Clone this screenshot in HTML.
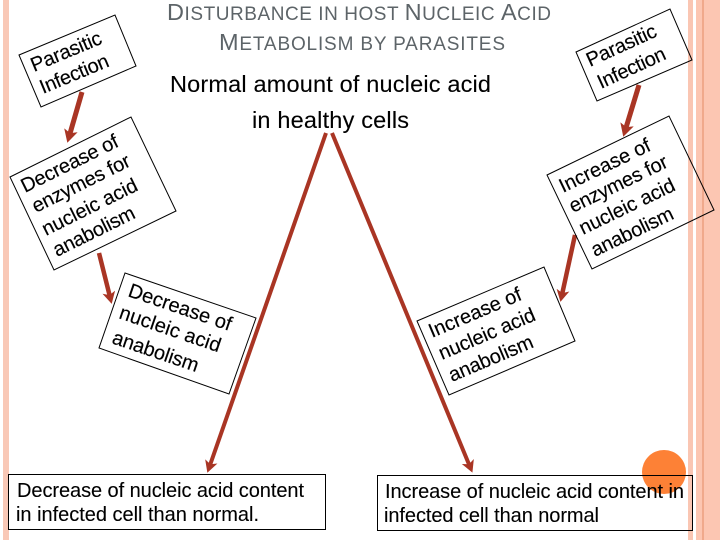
<!DOCTYPE html>
<html>
<head>
<meta charset="utf-8">
<style>
html,body{margin:0;padding:0;background:#fff;width:720px;height:540px;overflow:hidden}
svg{display:block}
text{font-family:"Liberation Sans",sans-serif;fill:#000}
.r{font-size:20px;stroke:#000;stroke-width:.15}
.b{font-size:20px;stroke:#000;stroke-width:.1}
.t{font-size:19px;fill:#5d6468}
.t tspan.c{font-size:23.500px}
.n{font-size:23.500px;stroke:#000;stroke-width:.1}
polygon.box{fill:none;stroke:#000;stroke-width:1}
rect.box{fill:none;stroke:#000;stroke-width:1}
</style>
</head>
<body>
<svg width="720" height="540" viewBox="0 0 720 540" xmlns="http://www.w3.org/2000/svg">
<defs>
<marker id="h" markerUnits="userSpaceOnUse" markerWidth="14" markerHeight="14" refX="7" refY="7" orient="auto" viewBox="0 0 14 14">
<path d="M0,0 L13,7 L0,14 L3,7 Z" fill="#a93524"/>
</marker>
<marker id="s" markerUnits="userSpaceOnUse" markerWidth="13" markerHeight="13" refX="7" refY="6.500" orient="auto" viewBox="0 0 13 13">
<path d="M0,0 L12,6.500 L0,13 L3,6.500 Z" fill="#a93524"/>
</marker>
</defs>

<rect x="3" y="0" width="6" height="540" fill="#f9c8b6"/>
<rect x="688" y="0" width="5" height="540" fill="#fac6b3"/>
<rect x="696" y="0" width="24" height="540" fill="#fcc6b2"/>
<rect x="702" y="0" width="2" height="540" fill="#f0a98c"/>

<circle cx="664" cy="472" r="22" fill="#fd8136"/>

<g stroke="#a93524" fill="none">
<line x1="82" y1="92" x2="69" y2="137" stroke-width="5" marker-end="url(#h)"/>
<line x1="99" y1="253" x2="110.500" y2="299" stroke-width="4.500" marker-end="url(#s)"/>
<line x1="639" y1="85" x2="625" y2="131" stroke-width="5" marker-end="url(#h)"/>
<line x1="575" y1="235" x2="561.500" y2="297" stroke-width="4.500" marker-end="url(#s)"/>
<line x1="326" y1="133" x2="209" y2="468" stroke-width="4" marker-end="url(#s)"/>
<line x1="332" y1="133" x2="470.500" y2="468" stroke-width="4" marker-end="url(#s)"/>
</g>

<polygon class="box" points="19,55 115,15 136,66 41,107"/>
<polygon class="box" points="10,177 131,117 176,211 54,270"/>
<polygon class="box" points="576,52 670,9 692,60 597,101"/>
<polygon class="box" points="547,175 669,116 714,210 592,269"/>
<polygon class="box" points="125,273 256,318 229,394 99,348"/>
<polygon class="box" points="417,321 544,267 575,341 449,395"/>
<rect class="box" x="8.500" y="474.500" width="317" height="55"/>
<rect class="box" x="377.500" y="475.500" width="315" height="55"/>

<text class="t" x="167" y="20" textLength="384" lengthAdjust="spacing"><tspan class="c">D</tspan>ISTURBANCE IN HOST <tspan class="c">N</tspan>UCLEIC <tspan class="c">A</tspan>CID</text>
<text class="t" x="219" y="50" textLength="286" lengthAdjust="spacing"><tspan class="c">M</tspan>ETABOLISM BY PARASITES</text>

<text class="n" x="170" y="92" textLength="321" lengthAdjust="spacing">Normal amount of nucleic acid</text>
<text class="n" x="252" y="128" textLength="157" lengthAdjust="spacing">in healthy cells</text>

<text class="r" transform="translate(34,72) rotate(-22.600)" textLength="75" lengthAdjust="spacing">Parasitic</text>
<text class="r" transform="translate(43,94) rotate(-22.600)" textLength="73" lengthAdjust="spacing">Infection</text>

<text class="r" transform="translate(25,193) rotate(-26.400)" textLength="106" lengthAdjust="spacing">Decrease of</text>
<text class="r" transform="translate(36,213) rotate(-26.400)" textLength="107" lengthAdjust="spacing">enzymes for</text>
<text class="r" transform="translate(46,236) rotate(-26.400)" textLength="104" lengthAdjust="spacing">nucleic acid</text>
<text class="r" transform="translate(57,257) rotate(-26.400)" textLength="89" lengthAdjust="spacing">anabolism</text>

<text class="r" transform="translate(590,67) rotate(-24.600)" textLength="75" lengthAdjust="spacing">Parasitic</text>
<text class="r" transform="translate(601,89) rotate(-24.600)" textLength="73" lengthAdjust="spacing">Infection</text>

<text class="r" transform="translate(563,193) rotate(-25.800)" textLength="99" lengthAdjust="spacing">Increase of</text>
<text class="r" transform="translate(573,213) rotate(-25.800)" textLength="107" lengthAdjust="spacing">enzymes for</text>
<text class="r" transform="translate(583,235) rotate(-25.800)" textLength="104" lengthAdjust="spacing">nucleic acid</text>
<text class="r" transform="translate(595,257) rotate(-25.800)" textLength="89" lengthAdjust="spacing">anabolism</text>

<text class="r" transform="translate(127,296) rotate(18.900)" textLength="108" lengthAdjust="spacing">Decrease of</text>
<text class="r" transform="translate(118,318) rotate(18.900)" textLength="106" lengthAdjust="spacing">nucleic acid</text>
<text class="r" transform="translate(111,343) rotate(18.900)" textLength="90" lengthAdjust="spacing">anabolism</text>

<text class="r" transform="translate(432,338) rotate(-23)" textLength="99" lengthAdjust="spacing">Increase of</text>
<text class="r" transform="translate(442,360) rotate(-23)" textLength="103" lengthAdjust="spacing">nucleic acid</text>
<text class="r" transform="translate(452,382) rotate(-23)" textLength="90" lengthAdjust="spacing">anabolism</text>

<text class="b" x="17" y="497" textLength="287" lengthAdjust="spacing">Decrease of nucleic acid content</text>
<text class="b" x="16" y="521" textLength="243" lengthAdjust="spacing">in infected cell than normal.</text>
<text class="b" x="385" y="498" textLength="299" lengthAdjust="spacing">Increase of nucleic acid content in</text>
<text class="b" x="384" y="522" textLength="215" lengthAdjust="spacing">infected cell than normal</text>
</svg>
</body>
</html>
